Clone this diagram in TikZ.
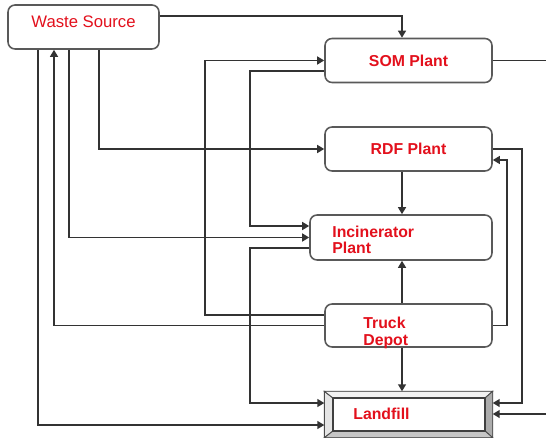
\documentclass[tikz,border=0pt]{standalone}
\usepackage{fontspec}
\setmainfont{Liberation Sans}
\usetikzlibrary{arrows.meta}
\definecolor{plantred}{HTML}{E3101C}

\begin{document}
\begin{tikzpicture}[x=0.02cm, y=-0.02cm,
	plant/.style={draw=black!65, line width=0.9pt, rounded corners=4pt, fill=white,
		minimum width=3.34cm, minimum height=0.88cm, text=plantred,
		font=\bfseries\fontsize{9}{9}\selectfont},
	plantlabel/.style={text=plantred, align=left, inner sep=0pt,
		font=\bfseries\fontsize{9}{9.5}\selectfont},
	flow/.style={draw=black!80, line width=0.9pt, -{Triangle[length=4pt,width=4.5pt]}},
	link/.style={draw=black!80, line width=0.9pt}]
	\clip (0,0) rectangle (546,438);
	\node[plant, minimum width=3.02cm, text depth=5.5pt, font=\fontsize{9.5}{10}\selectfont] (ws) at (83.5,27) {Waste Source};
	\node[plant] (som) at (408.5,60.5) {SOM Plant};
	\node[plant] (rdf) at (408.5,149) {RDF Plant};
	\node[plant, minimum width=3.64cm, minimum height=0.9cm] (inc) at (401,237.5) {};
	\node[plantlabel, anchor=west] (inctxt) at (332,240) {Incinerator\\Plant};
	\node[plant, minimum height=0.86cm] (truck) at (408.5,325.5) {};
	\node[plantlabel, anchor=west] (trucktxt) at (363,333) {Truck\\Depot};
	\node[draw=black!70, line width=0.8pt, fill=white, minimum width=3.34cm, minimum height=0.9cm] (land) at (408.5,414.5) {};
	\filldraw[draw=black!70, line width=0.5pt, fill=gray!20] (land.north west) -- (land.south west) -- (333,431) -- (333,398) -- cycle;
	\filldraw[draw=black!70, line width=0.5pt, fill=gray!10] (land.north west) -- (land.north east) -- (485,398) -- (333,398) -- cycle;
	\filldraw[draw=black!70, line width=0.5pt, fill=gray!65] (land.north east) -- (land.south east) -- (485,431) -- (485,398) -- cycle;
	\filldraw[draw=black!70, line width=0.5pt, fill=gray!45] (land.south west) -- (land.south east) -- (485,431) -- (333,431) -- cycle;
	\node[draw=black!75, line width=0.8pt, fill=white, minimum width=3.04cm, minimum height=0.66cm] (landin) at (409,414.5) {};
	\node[plantlabel, anchor=west] (landtxt) at (353,414) {Landfill};

	\draw[flow] (ws.east |- 0,16) -| (som.north -| 402,0);
	\draw[flow] (ws.south -| 99,0) |- (rdf.west);
	\draw[flow] (ws.south -| 69,0) |- (inc.west);
	\draw[flow] (truck.west) -| (ws.south -| 54,0);
	\draw[flow] (ws.south -| 38,0) |- (land.west |- 0,425);
	\draw[flow] (truck.west |- 0,315) -| (som.west -| 205,0) -- (som.west);
	\draw[flow] (som.west |- 0,71) -- (250,71) |- (inc.west |- 0,226);
	\draw[flow] (inc.west |- 0,248) -- (250,248) |- (land.west |- 0,403);
	\draw[flow] (rdf.south -| 402,0) -- (inc.north -| 402,0);
	\draw[flow] (truck.north -| 402,0) -- (inc.south -| 402,0);
	\draw[flow] (truck.south -| 402,0) -- (land.north -| 402,0);
	\draw[flow] (rdf.east) -- (522,149) |- (land.east |- 0,403);
	\draw[flow] (truck.east) -- (507,325.5) |- (rdf.east |- 0,160);
	\draw[flow] (som.east) -- (560,60.5) |- (land.east |- 0,414);
\end{tikzpicture}
\end{document}
